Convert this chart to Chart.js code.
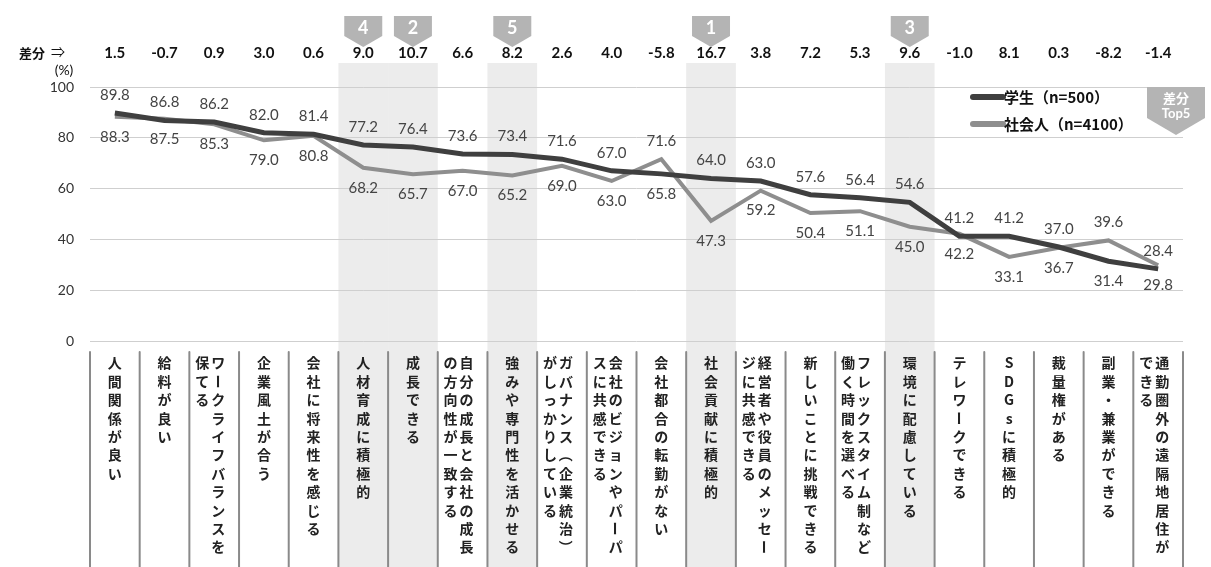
<!DOCTYPE html>
<html>
<head>
<meta charset="utf-8">
<script src="https://cdn.jsdelivr.net/npm/chart.js@4.4.0/dist/chart.umd.min.js"></script>
<style>
  body { margin: 0; background: #fff; }
</style>
</head>
<body>
<canvas id="myChart" width="1211" height="567"></canvas>
<script>
var categories = [
  ["人間関係が良い"],
  ["給料が良い"],
  ["ワークライフバランスを", "保てる"],
  ["企業風土が合う"],
  ["会社に将来性を感じる"],
  ["人材育成に積極的"],
  ["成長できる"],
  ["自分の成長と会社の成長", "の方向性が一致する"],
  ["強みや専門性を活かせる"],
  ["ガバナンス（企業統治）", "がしっかりしている"],
  ["会社のビジョンやパーパ", "スに共感できる"],
  ["会社都合の転勤がない"],
  ["社会貢献に積極的"],
  ["経営者や役員のメッセー", "ジに共感できる"],
  ["新しいことに挑戦できる"],
  ["フレックスタイム制など", "働く時間を選べる"],
  ["環境に配慮している"],
  ["テレワークできる"],
  ["SDGsに積極的"],
  ["裁量権がある"],
  ["副業・兼業ができる"],
  ["通勤圏外の遠隔地居住が", "できる"]
];
var student = [89.8, 86.8, 86.2, 82.0, 81.4, 77.2, 76.4, 73.6, 73.4, 71.6, 67.0,
               65.8, 64.0, 63.0, 57.6, 56.4, 54.6, 41.2, 41.2, 37.0, 31.4, 28.4];
var worker  = [88.3, 87.5, 85.3, 79.0, 80.8, 68.2, 65.7, 67.0, 65.2, 69.0, 63.0,
               71.6, 47.3, 59.2, 50.4, 51.1, 45.0, 42.2, 33.1, 36.7, 39.6, 29.8];
var seriesNames = ["学生（n=500）", "社会人（n=4100）"];

var darkCol = "#3f3f3f";
var greyCol = "#8e8e8e";
var badgeCol = "#b4b4b4";
var numFont = "Lato, 'Noto Sans CJK JP', sans-serif";
var jpFont = "'Noto Sans CJK JP', sans-serif";

// student minus worker, and the five largest gaps
var diffs = student.map(function(s, i){ return Math.round((s - worker[i]) * 10) / 10; });
var order = diffs.map(function(d, i){ return i; }).sort(function(a, b){ return diffs[b] - diffs[a]; });
var rank = {};
order.slice(0, 5).forEach(function(idx, r){ rank[idx] = r + 1; });

function fmt(v){ return v.toFixed(1); }

function badge(ctx, x0, x1, top, side, tip){
  ctx.beginPath();
  ctx.moveTo(x0, top);
  ctx.lineTo(x1, top);
  ctx.lineTo(x1, side);
  ctx.lineTo((x0 + x1) / 2, tip);
  ctx.lineTo(x0, side);
  ctx.closePath();
  ctx.fillStyle = badgeCol;
  ctx.fill();
}

var decor = {
  id: "decor",
  beforeDraw: function(chart){
    var ctx = chart.ctx, xs = chart.scales.x;
    var half = (xs.getPixelForValue(1) - xs.getPixelForValue(0)) / 2;
    ctx.save();
    ctx.fillStyle = "#fff";
    ctx.fillRect(0, 0, chart.width, chart.height);
    ctx.fillStyle = "#ececec";
    Object.keys(rank).forEach(function(k){
      var cx = xs.getPixelForValue(+k);
      ctx.fillRect(cx - half, 63, half * 2, chart.height - 63);
    });
    ctx.restore();
  },
  afterDatasetsDraw: function(chart){
    var ctx = chart.ctx;
    var m0 = chart.getDatasetMeta(0).data, m1 = chart.getDatasetMeta(1).data;
    ctx.save();
    ctx.font = "15px " + numFont;
    ctx.fillStyle = "#444";
    ctx.textAlign = "center";
    ctx.textBaseline = "middle";
    student.forEach(function(s, i){
      var sAbove = diffs[i] > -2;
      ctx.fillText(fmt(s), m0[i].x, m0[i].y + (sAbove ? -18 : 20));
      ctx.fillText(fmt(worker[i]), m1[i].x, m1[i].y + (sAbove ? 20 : -18));
    });
    ctx.restore();
  },
  afterDraw: function(chart){
    var ctx = chart.ctx, xs = chart.scales.x;
    var half = (xs.getPixelForValue(1) - xs.getPixelForValue(0)) / 2;
    ctx.save();
    ctx.textAlign = "center";
    ctx.textBaseline = "middle";

    // difference row
    ctx.fillStyle = "#111";
    ctx.font = "bold 13px " + jpFont;
    ctx.fillText("差分", 32, 53);
    ctx.font = "14px " + jpFont;
    ctx.fillText("⇒", 58, 52);
    ctx.font = "14px " + numFont;
    ctx.fillText("(%)", 64, 70);
    ctx.font = "bold 15px " + numFont;
    diffs.forEach(function(d, i){
      ctx.fillText(fmt(d), xs.getPixelForValue(i), 53);
    });

    // rank badges
    Object.keys(rank).forEach(function(k){
      var cx = xs.getPixelForValue(+k);
      badge(ctx, cx - 19, cx + 19, 16, 36, 47);
      ctx.fillStyle = "#fff";
      ctx.font = "bold 18px " + numFont;
      ctx.fillText(String(rank[k]), cx, 28);
    });

    // legend
    [darkCol, greyCol].forEach(function(c, j){
      var y = 97 + j * 27;
      ctx.strokeStyle = c;
      ctx.lineWidth = 6;
      ctx.lineCap = "round";
      ctx.beginPath();
      ctx.moveTo(973, y);
      ctx.lineTo(1003, y);
      ctx.stroke();
      ctx.fillStyle = "#111";
      ctx.textAlign = "left";
      ctx.font = "bold 15px " + jpFont;
      ctx.fillText(seriesNames[j], 1004, y);
    });
    ctx.textAlign = "center";
    badge(ctx, 1147, 1205, 87, 118, 135);
    ctx.fillStyle = "#fff";
    ctx.font = "bold 13px " + jpFont;
    ctx.fillText("差分", 1176, 98);
    ctx.font = "bold 13px " + numFont;
    ctx.fillText("Top5", 1176, 114);

    // category separators
    ctx.strokeStyle = "#8a8a8a";
    ctx.lineWidth = 2;
    for (var i = 0; i <= categories.length; i++) {
      var bx = i < categories.length ? xs.getPixelForValue(i) - half : xs.getPixelForValue(i - 1) + half;
      ctx.beginPath();
      ctx.moveTo(bx, 352);
      ctx.lineTo(bx, chart.height);
      ctx.stroke();
    }

    // vertical category labels, first line on the right
    ctx.fillStyle = "#222";
    ctx.font = "bold 14px " + jpFont;
    categories.forEach(function(lines, i){
      var cx = xs.getPixelForValue(i);
      lines.forEach(function(line, k){
        var x = lines.length === 1 ? cx : (k === 0 ? cx + 4 : cx - 12);
        Array.from(line).forEach(function(ch, j){
          var y = 363 + j * 18.4;
          if ("ー（）".indexOf(ch) >= 0) {
            ctx.save();
            ctx.translate(x, y);
            ctx.rotate(Math.PI / 2);
            ctx.fillText(ch, 0, 0);
            ctx.restore();
          } else {
            ctx.fillText(ch, x, y);
          }
        });
      });
    });
    ctx.restore();
  }
};

new Chart("myChart", {
  type: "line",
  data: {
    labels: categories,
    datasets: [{
      label: seriesNames[0],
      data: student,
      borderColor: darkCol,
      borderWidth: 5,
      pointRadius: 0,
      tension: 0,
      order: 0
    }, {
      label: seriesNames[1],
      data: worker,
      borderColor: greyCol,
      borderWidth: 4,
      pointRadius: 0,
      tension: 0,
      order: 1
    }]
  },
  options: {
    responsive: false,
    animation: false,
    devicePixelRatio: 1,
    layout: { padding: { top: 87, bottom: 226, right: 28, left: 0 } },
    plugins: { legend: { display: false }, tooltip: { enabled: false } },
    scales: {
      x: { display: false, offset: true },
      y: {
        min: 0,
        max: 100,
        afterFit: function(s){ s.width = 90; },
        ticks: { stepSize: 20, padding: 16, color: "#333", font: { family: numFont, size: 14 } },
        grid: { color: "#cfcfcf", drawTicks: false },
        border: { display: false }
      }
    }
  },
  plugins: [decor]
});
</script>
</body>
</html>
